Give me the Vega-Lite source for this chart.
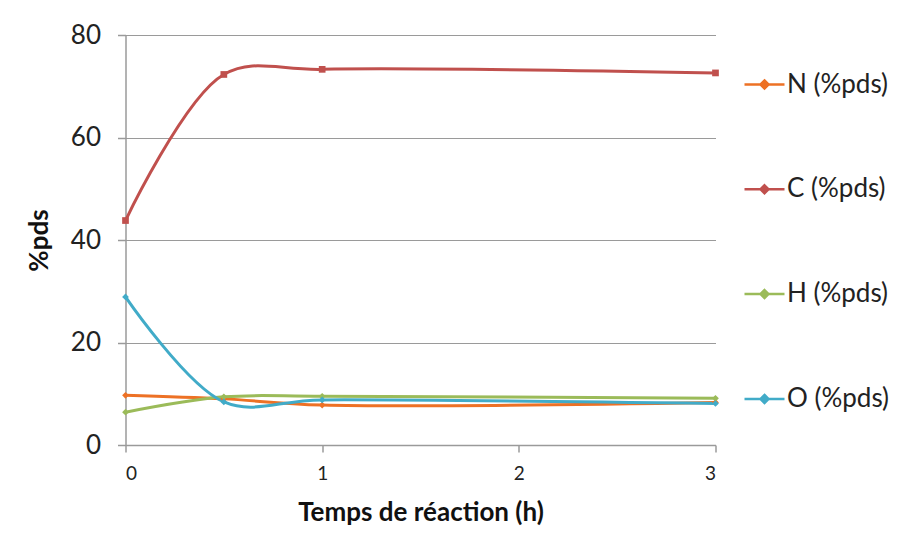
{
  "$schema": "https://vega.github.io/schema/vega-lite/v6.json",
  "width": 590,
  "height": 410,
  "autosize": {"type": "none"},
  "padding": {"left": 125.5, "top": 35, "right": 183.5, "bottom": 101},
  "background": "white",
  "config": {
    "view": {"stroke": null},
    "font": "Lato",
    "axis": {
      "labelFont": "Lato", "labelFontSize": 26, "labelColor": "#222", "labelFontWeight": "normal",
      "titleFont": "Lato", "titleFontSize": 26, "titleFontWeight": "bold", "titleColor": "#111",
      "domainColor": "#9a9a9a", "domainWidth": 1.5, "tickColor": "#9a9a9a", "tickWidth": 1.5,
      "gridColor": "#9a9a9a", "gridWidth": 1.2
    }
  },
  "data": {
    "values": [
      {"t": 0, "s": "N (%pds)", "v": 9.7},
      {"t": 0.5, "s": "N (%pds)", "v": 9.0},
      {"t": 1, "s": "N (%pds)", "v": 7.8},
      {"t": 3, "s": "N (%pds)", "v": 8.3},
      {"t": 0, "s": "C (%pds)", "v": 43.8},
      {"t": 0.5, "s": "C (%pds)", "v": 72.3},
      {"t": 1, "s": "C (%pds)", "v": 73.3},
      {"t": 3, "s": "C (%pds)", "v": 72.6},
      {"t": 0, "s": "H (%pds)", "v": 6.4},
      {"t": 0.5, "s": "H (%pds)", "v": 9.4},
      {"t": 1, "s": "H (%pds)", "v": 9.5},
      {"t": 3, "s": "H (%pds)", "v": 9.1},
      {"t": 0, "s": "O (%pds)", "v": 28.9},
      {"t": 0.5, "s": "O (%pds)", "v": 8.4},
      {"t": 1, "s": "O (%pds)", "v": 8.8},
      {"t": 3, "s": "O (%pds)", "v": 8.1}
    ]
  },
  "encoding": {
    "x": {
      "field": "t", "type": "quantitative",
      "scale": {"domain": [0, 3], "nice": false},
      "axis": {"title": "Temps de réaction (h)", "values": [0, 1, 2, 3], "grid": false, "tickSize": 7, "labelPadding": 12, "titlePadding": 16, "format": "d", "labelFontSize": 19}
    },
    "y": {
      "field": "v", "type": "quantitative",
      "scale": {"domain": [0, 80], "nice": false},
      "axis": {"title": "%pds", "values": [0, 20, 40, 60, 80], "tickSize": 8, "labelPadding": 17, "titlePadding": 18}
    },
    "color": {
      "field": "s", "type": "nominal",
      "scale": {
        "domain": ["N (%pds)", "C (%pds)", "H (%pds)", "O (%pds)"],
        "range": ["#ED7125", "#C0504D", "#9BBB59", "#41ABC8"]
      },
      "legend": {
        "title": null,
        "orient": "none",
        "legendX": 617.5,
        "legendY": 28,
        "symbolType": "M-1,0L1,0M0,-0.2L0.2,0L0,0.2L-0.2,0Z",
        "symbolSize": 1600,
        "symbolStrokeWidth": 2.5,
        "labelFont": "Lato",
        "labelFontSize": 26,
        "labelColor": "#222",
        "labelOffset": 1,
        "rowPadding": 69.8,
        "labelLimit": 200,
        "encode": {
          "symbols": {"update": {
            "fill": {"scale": "color", "field": "value"},
            "stroke": {"scale": "color", "field": "value"},
            "opacity": {"value": 1}}}
        }
      }
    }
  },
  "layer": [
    {
      "mark": {"type": "line", "interpolate": "catmull-rom", "strokeWidth": 3}
    },
    {
      "transform": [{"filter": "datum.s !== 'C (%pds)'"}],
      "mark": {"type": "point", "filled": true, "opacity": 1, "size": 45, "shape": "diamond"}
    },
    {
      "transform": [{"filter": "datum.s === 'C (%pds)'"}],
      "mark": {"type": "point", "filled": true, "opacity": 1, "size": 45, "shape": "square"}
    }
  ]
}
